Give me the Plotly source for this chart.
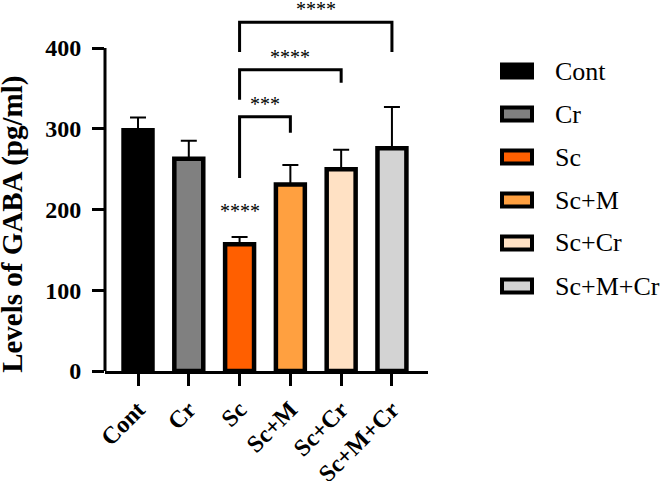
import plotly.graph_objects as go

categories = ["Cont", "Cr", "Sc", "Sc+M", "Sc+Cr", "Sc+M+Cr"]
means = [298, 263, 157, 231, 250, 276]
err_top = [314, 285, 166, 255, 274, 327]
colors = ["#000000", "#808080", "#FF5F00", "#FFA040", "#FFE1C4", "#D3D3D3"]

# significance comparisons: (group a, group b, label, bracket top, left drop end, right drop end)
comp_a = [2, 2, 2]
comp_b = [3, 4, 5]
comp_labels = ["***", "****", "****"]
comp_top = [315, 373, 432]
comp_left_end = [239, 336, 395]
comp_right_end = [295, 357, 395]
single_label = "****"
single_idx = 2
single_y = 198

y_ticks = [0, 100, 200, 300, 400]
y_title = "Levels of GABA (pg/ml)"

serif = "Liberation Serif, Times New Roman, serif"

errors = [t - m for t, m in zip(err_top, means)]
xs = list(range(len(categories)))

fig = go.Figure()
fig.add_trace(go.Bar(
    x=xs, y=means, width=0.57,
    marker=dict(color=colors, line=dict(color="black", width=4.5)),
    error_y=dict(type="data", array=errors, arrayminus=[0] * len(errors), symmetric=False,
                 color="black", thickness=2, width=8),
    showlegend=False,
))

shapes = []
annotations = []
# y axis spine from 0 to 400
shapes.append(dict(type="line", xref="x domain", yref="y", x0=0, x1=0, y0=0, y1=max(y_ticks),
                   line=dict(color="black", width=3)))
for a, b, lab, top, le, re in zip(comp_a, comp_b, comp_labels, comp_top, comp_left_end, comp_right_end):
    shapes.append(dict(type="path", xref="x", yref="y",
                       path=f"M {a},{le} L {a},{top} L {b},{top} L {b},{re}",
                       line=dict(color="black", width=3)))
    annotations.append(dict(x=(a + b) / 2, y=top, xref="x", yref="y", text=lab, showarrow=False,
                            yanchor="bottom", yshift=0, font=dict(family=serif, size=20, color="black")))
annotations.append(dict(x=single_idx, y=single_y, xref="x", yref="y", text=single_label, showarrow=False,
                        yanchor="middle", font=dict(family=serif, size=20, color="black")))
annotations.append(dict(x=0, y=181, xref="paper", yref="y", text=f"<b>{y_title}</b>", showarrow=False,
                        textangle=-90, xanchor="center", yanchor="middle", xshift=-92,
                        font=dict(family=serif, size=29, color="black")))

# manual legend
leg_y0 = 71
leg_dy = 43
for i, (name, col) in enumerate(zip(categories, colors)):
    yc = leg_y0 + i * leg_dy
    ypaper = 1 - (yc - 4) / 367
    shapes.append(dict(type="rect", xref="paper", yref="paper",
                       x0=(502 - 105) / 323, x1=(532 - 105) / 323,
                       y0=ypaper - 6.5 / 367, y1=ypaper + 6.5 / 367,
                       fillcolor=col, line=dict(color="black", width=4)))
    annotations.append(dict(x=(553 - 105) / 323, y=ypaper, xref="paper", yref="paper", text=name,
                            showarrow=False, xanchor="left", yanchor="middle",
                            font=dict(family=serif, size=26, color="black")))

fig.update_layout(
    width=662, height=481,
    margin=dict(l=105, r=234, t=4, b=110),
    plot_bgcolor="white", paper_bgcolor="white",
    shapes=shapes, annotations=annotations,
    xaxis=dict(range=[-0.65, 5.71], tickvals=xs, ticktext=[f"<b>{c}</b>" for c in categories],
               tickangle=-45, showline=True, linecolor="black", linewidth=3,
               ticks="outside", ticklen=12, tickwidth=3, tickcolor="black",
               showgrid=False, zeroline=False, automargin=False,
               tickfont=dict(family=serif, size=24, color="black")),
    yaxis=dict(range=[0, 454.5], tickvals=y_ticks, ticktext=[f"<b>{v}</b>" for v in y_ticks],
               showline=False, ticks="outside", ticklen=12, tickwidth=3, tickcolor="black",
               showgrid=False, zeroline=False, automargin=False, ticklabelstandoff=6,
               tickfont=dict(family=serif, size=24, color="black")),
    showlegend=False,
)
fig.write_html("out.html")
